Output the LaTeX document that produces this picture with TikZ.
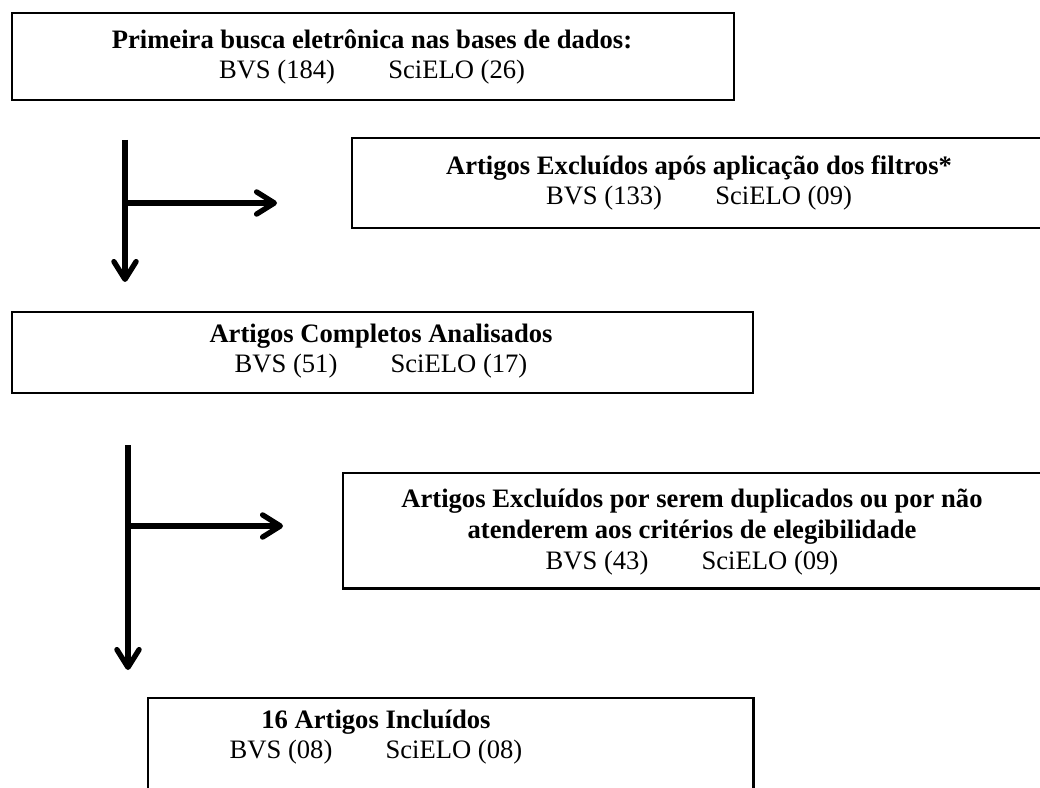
\documentclass[tikz,border=0pt]{standalone}
\usepackage{fontspec}
\setmainfont{Liberation Serif}
\usetikzlibrary{arrows.meta}

\begin{document}
\begin{tikzpicture}[
  x=0.451pt, y=-0.451pt,
  flow_box/.style={rectangle, draw, line width=1.1pt, inner sep=0pt, anchor=north west},
  box_text/.style={align=center, inner sep=0pt, font=\fontsize{12}{13.8}\selectfont},
  flow_arrow/.style={line width=2.4pt, -{Straight Barb[length=8pt, width=10pt, line cap=round, line join=round]}},
]
\useasboundingbox (0,0) rectangle (1040,788);
\clip (0,0) rectangle (1040,788);
\draw (11,12) node (busca) [flow_box, minimum width=325.6pt, minimum height=39.2pt] {};
\draw (351,137) node (filtros) [flow_box, minimum width=313.9pt, minimum height=40.6pt] {};
\draw (11,311) node (analisados) [flow_box, minimum width=334.2pt, minimum height=36.5pt] {};
\draw (342,472) node (duplicados) [flow_box, minimum width=315.7pt, minimum height=51.9pt] {};
\draw (147,697) node (incluidos) [flow_box, minimum width=272.9pt, minimum height=51pt] {};
\draw (372,57) node (busca_txt) [box_text] {\textbf{Primeira busca eletrônica nas bases de dados:}\\BVS (184)\hspace{2em}SciELO (26)};
\draw (699,183) node (filtros_txt) [box_text] {\textbf{Artigos Excluídos após aplicação dos filtros*}\\BVS (133)\hspace{2em}SciELO (09)};
\draw (381,351) node (analisados_txt) [box_text] {\textbf{Artigos Completos Analisados}\\BVS (51)\hspace{2em}SciELO (17)};
\draw (692,532) node (duplicados_txt) [box_text] {\textbf{Artigos Excluídos por serem duplicados ou por não}\\\textbf{atenderem aos critérios de elegibilidade}\\BVS (43)\hspace{2em}SciELO (09)};
\draw (376,737) node (incluidos_txt) [box_text] {\textbf{16 Artigos Incluídos}\\BVS (08)\hspace{2em}SciELO (08)};
\coordinate (down1_top) at (125,140);
\coordinate (down1_end) at (125,282);
\coordinate (side1_start) at (125,203);
\coordinate (side1_end) at (277,203);
\coordinate (down2_top) at (128,445);
\coordinate (down2_end) at (128,670);
\coordinate (side2_start) at (128,526);
\coordinate (side2_end) at (283,526);
\draw [flow_arrow] (down1_top) -- (down1_end);
\draw [flow_arrow] (side1_start) -- (side1_end);
\draw [flow_arrow] (down2_top) -- (down2_end);
\draw [flow_arrow] (side2_start) -- (side2_end);
\end{tikzpicture}
\end{document}
